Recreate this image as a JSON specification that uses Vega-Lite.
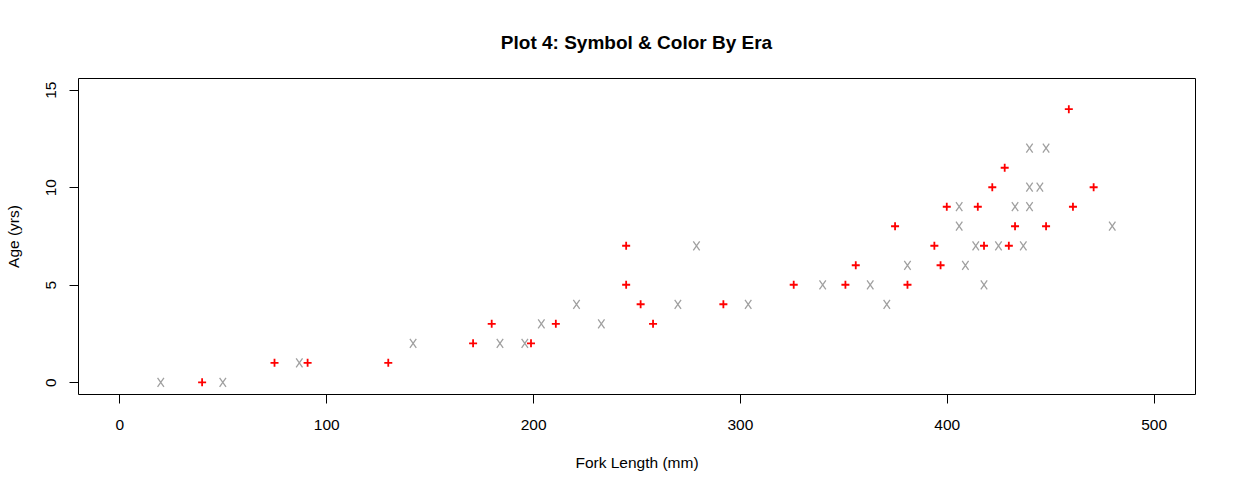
{
  "$schema": "https://vega.github.io/schema/vega-lite/v6.json",
  "width": 1117,
  "height": 316,
  "autosize": {"type": "none"},
  "padding": {"left": 78, "top": 78, "right": 40, "bottom": 98},
  "background": "white",
  "title": {
    "text": "Plot 4: Symbol & Color By Era",
    "font": "Liberation Sans",
    "fontSize": 19,
    "fontWeight": "bold",
    "color": "black",
    "anchor": "middle",
    "frame": "group",
    "baseline": "alphabetic",
    "offset": 10
  },
  "data": {
    "values": [
      {"era": "Era 1", "length": 20, "age": 0},
      {"era": "Era 1", "length": 50, "age": 0},
      {"era": "Era 1", "length": 87, "age": 1},
      {"era": "Era 1", "length": 142, "age": 2},
      {"era": "Era 1", "length": 184, "age": 2},
      {"era": "Era 1", "length": 196, "age": 2},
      {"era": "Era 1", "length": 204, "age": 3},
      {"era": "Era 1", "length": 221, "age": 4},
      {"era": "Era 1", "length": 233, "age": 3},
      {"era": "Era 1", "length": 270, "age": 4},
      {"era": "Era 1", "length": 279, "age": 7},
      {"era": "Era 1", "length": 304, "age": 4},
      {"era": "Era 1", "length": 340, "age": 5},
      {"era": "Era 1", "length": 363, "age": 5},
      {"era": "Era 1", "length": 371, "age": 4},
      {"era": "Era 1", "length": 381, "age": 6},
      {"era": "Era 1", "length": 406, "age": 9},
      {"era": "Era 1", "length": 406, "age": 8},
      {"era": "Era 1", "length": 409, "age": 6},
      {"era": "Era 1", "length": 414, "age": 7},
      {"era": "Era 1", "length": 418, "age": 5},
      {"era": "Era 1", "length": 425, "age": 7},
      {"era": "Era 1", "length": 433, "age": 9},
      {"era": "Era 1", "length": 437, "age": 7},
      {"era": "Era 1", "length": 440, "age": 12},
      {"era": "Era 1", "length": 440, "age": 10},
      {"era": "Era 1", "length": 440, "age": 9},
      {"era": "Era 1", "length": 445, "age": 10},
      {"era": "Era 1", "length": 448, "age": 12},
      {"era": "Era 1", "length": 480, "age": 8},
      {"era": "Era 2", "length": 40, "age": 0},
      {"era": "Era 2", "length": 75, "age": 1},
      {"era": "Era 2", "length": 91, "age": 1},
      {"era": "Era 2", "length": 130, "age": 1},
      {"era": "Era 2", "length": 171, "age": 2},
      {"era": "Era 2", "length": 180, "age": 3},
      {"era": "Era 2", "length": 199, "age": 2},
      {"era": "Era 2", "length": 211, "age": 3},
      {"era": "Era 2", "length": 245, "age": 5},
      {"era": "Era 2", "length": 245, "age": 7},
      {"era": "Era 2", "length": 252, "age": 4},
      {"era": "Era 2", "length": 258, "age": 3},
      {"era": "Era 2", "length": 292, "age": 4},
      {"era": "Era 2", "length": 326, "age": 5},
      {"era": "Era 2", "length": 351, "age": 5},
      {"era": "Era 2", "length": 356, "age": 6},
      {"era": "Era 2", "length": 375, "age": 8},
      {"era": "Era 2", "length": 381, "age": 5},
      {"era": "Era 2", "length": 394, "age": 7},
      {"era": "Era 2", "length": 397, "age": 6},
      {"era": "Era 2", "length": 400, "age": 9},
      {"era": "Era 2", "length": 415, "age": 9},
      {"era": "Era 2", "length": 418, "age": 7},
      {"era": "Era 2", "length": 422, "age": 10},
      {"era": "Era 2", "length": 428, "age": 11},
      {"era": "Era 2", "length": 430, "age": 7},
      {"era": "Era 2", "length": 433, "age": 8},
      {"era": "Era 2", "length": 448, "age": 8},
      {"era": "Era 2", "length": 459, "age": 14},
      {"era": "Era 2", "length": 461, "age": 9},
      {"era": "Era 2", "length": 471, "age": 10}
    ]
  },
  "encoding": {
    "x": {
      "field": "length",
      "type": "quantitative",
      "scale": {"domain": [-20, 520], "nice": false, "zero": false},
      "axis": {
        "values": [0, 100, 200, 300, 400, 500],
        "title": "Fork Length (mm)",
        "labelPadding": 14,
        "titleY": 73.7,
        "titleBaseline": "alphabetic"
      }
    },
    "y": {
      "field": "age",
      "type": "quantitative",
      "scale": {"domain": [-0.6, 15.6], "nice": false, "zero": false},
      "axis": {
        "values": [0, 5, 10, 15],
        "title": "Age (yrs)",
        "labelAngle": 270,
        "labelAlign": "center",
        "labelBaseline": "alphabetic",
        "labelPadding": 14,
        "titleAngle": 270,
        "titleX": -59.7,
        "titleY": 158,
        "titleAlign": "center",
        "titleBaseline": "alphabetic"
      }
    }
  },
  "layer": [
    {
      "transform": [{"filter": "datum.era === 'Era 1'"}],
      "mark": {
        "type": "point",
        "shape": "M-0.64,-0.9L0.64,0.9M-0.64,0.9L0.64,-0.9",
        "filled": false,
        "color": "#a0a0a0",
        "strokeWidth": 1.3,
        "size": 100,
        "opacity": 1
      }
    },
    {
      "transform": [{"filter": "datum.era === 'Era 2'"}],
      "mark": {
        "type": "point",
        "shape": "M-0.8,0L0.8,0M0,-0.8L0,0.8",
        "filled": false,
        "color": "#ff0000",
        "strokeWidth": 1.8,
        "size": 100,
        "opacity": 1
      }
    }
  ],
  "config": {
    "view": {"stroke": "black", "strokeWidth": 1},
    "axis": {
      "grid": false,
      "domain": false,
      "tickSize": 9,
      "tickColor": "black",
      "tickWidth": 1,
      "labelFont": "Liberation Sans",
      "labelFontSize": 15.5,
      "labelColor": "black",
      "labelFlush": false,
      "labelOverlap": false,
      "titleFont": "Liberation Sans",
      "titleFontSize": 15.5,
      "titleFontWeight": "normal",
      "titleColor": "black"
    }
  }
}
